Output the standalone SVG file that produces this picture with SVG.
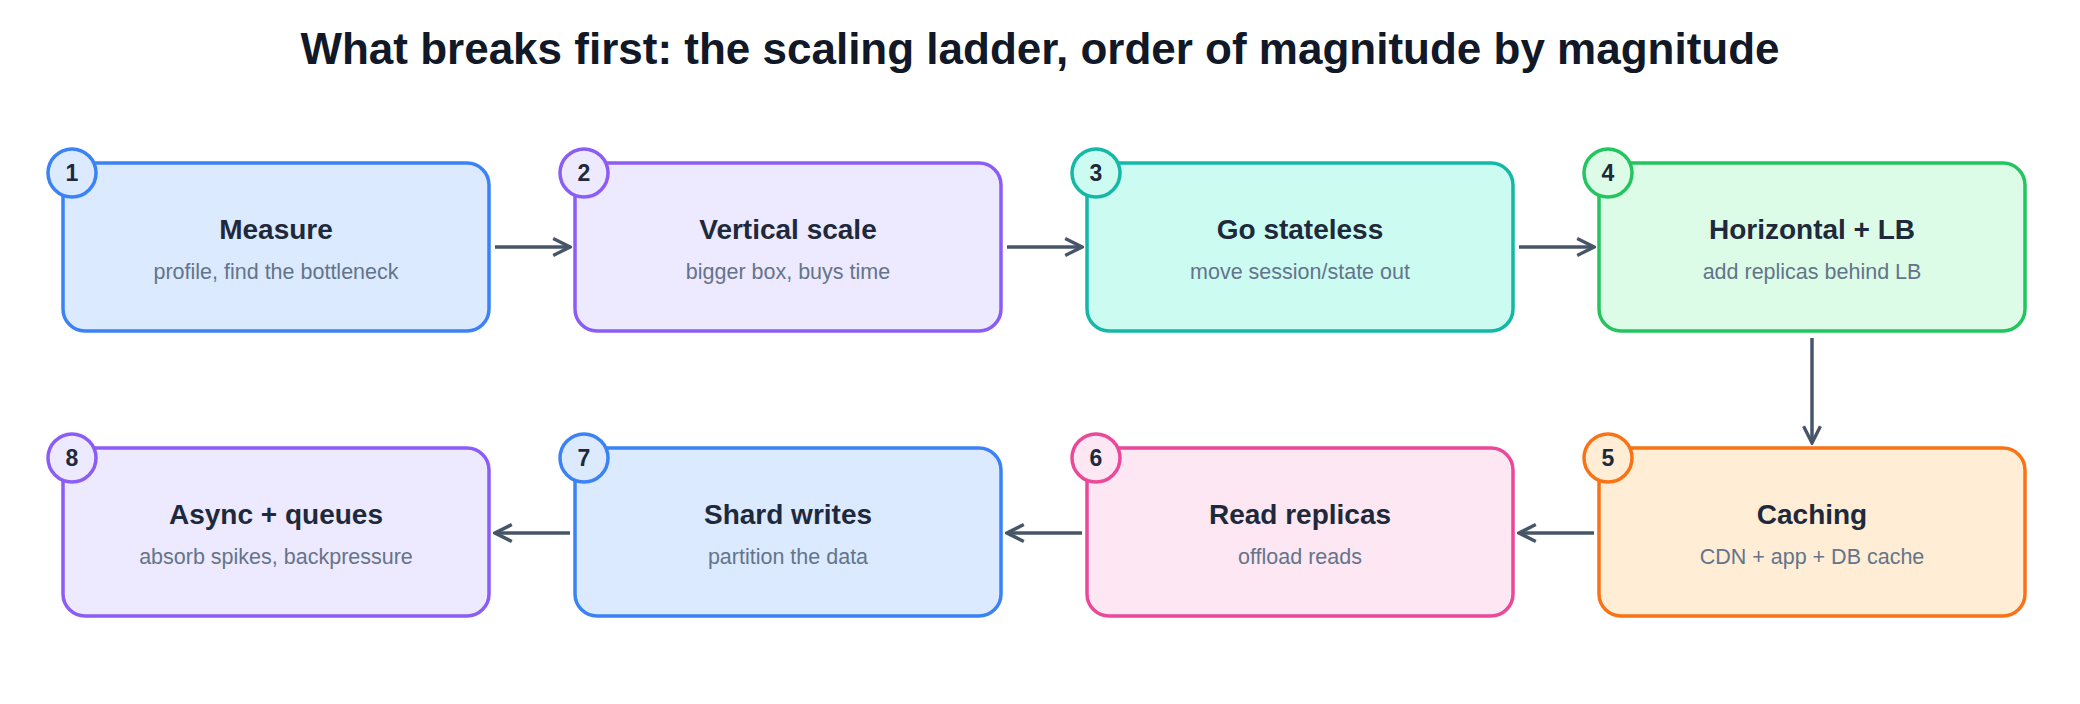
<svg xmlns="http://www.w3.org/2000/svg" width="2080" height="704" viewBox="0 0 2080 704">
<style>
text{font-family:"Liberation Sans",Arial,sans-serif;text-anchor:middle}
.t{font-size:28px;font-weight:bold;fill:#1e293b}
.s{font-size:21.5px;fill:#64748b}
.n{font-size:23px;font-weight:bold;fill:#1e293b}
.box{stroke-width:3.5}
.c line{stroke:#475569;stroke-width:3.5;marker-end:url(#a)}
</style>
<defs><marker id="a" viewBox="0 0 10 10" refX="9" refY="5" markerWidth="6" markerHeight="6" orient="auto"><path d="M1,1 L9,5 L1,9" fill="none" stroke="#475569" stroke-width="1.6"/></marker></defs>
<rect width="2080" height="704" fill="#fff"/>
<text x="1040" y="64" style="font-size:44px;font-weight:bold;fill:#111827">What breaks first: the scaling ladder, order of magnitude by magnitude</text>
<g id="n1"><rect class="box" x="63" y="163" width="426" height="168" rx="22" fill="#dbeafe" stroke="#3b82f6"/><circle cx="72" cy="173" r="24" fill="#dbeafe" stroke="#3b82f6" stroke-width="3.5"/><text class="n" x="72" y="181">1</text><text class="t" x="276" y="239">Measure</text><text class="s" x="276" y="279">profile, find the bottleneck</text></g>
<g id="n2"><rect class="box" x="575" y="163" width="426" height="168" rx="22" fill="#ede9fe" stroke="#8b5cf6"/><circle cx="584" cy="173" r="24" fill="#ede9fe" stroke="#8b5cf6" stroke-width="3.5"/><text class="n" x="584" y="181">2</text><text class="t" x="788" y="239">Vertical scale</text><text class="s" x="788" y="279">bigger box, buys time</text></g>
<g id="n3"><rect class="box" x="1087" y="163" width="426" height="168" rx="22" fill="#ccfbf1" stroke="#14b8a6"/><circle cx="1096" cy="173" r="24" fill="#ccfbf1" stroke="#14b8a6" stroke-width="3.5"/><text class="n" x="1096" y="181">3</text><text class="t" x="1300" y="239">Go stateless</text><text class="s" x="1300" y="279">move session/state out</text></g>
<g id="n4"><rect class="box" x="1599" y="163" width="426" height="168" rx="22" fill="#dcfce7" stroke="#22c55e"/><circle cx="1608" cy="173" r="24" fill="#dcfce7" stroke="#22c55e" stroke-width="3.5"/><text class="n" x="1608" y="181">4</text><text class="t" x="1812" y="239">Horizontal + LB</text><text class="s" x="1812" y="279">add replicas behind LB</text></g>
<g id="n5"><rect class="box" x="1599" y="448" width="426" height="168" rx="22" fill="#ffedd5" stroke="#f97316"/><circle cx="1608" cy="458" r="24" fill="#ffedd5" stroke="#f97316" stroke-width="3.5"/><text class="n" x="1608" y="466">5</text><text class="t" x="1812" y="524">Caching</text><text class="s" x="1812" y="564">CDN + app + DB cache</text></g>
<g id="n6"><rect class="box" x="1087" y="448" width="426" height="168" rx="22" fill="#fce7f3" stroke="#ec4899"/><circle cx="1096" cy="458" r="24" fill="#fce7f3" stroke="#ec4899" stroke-width="3.5"/><text class="n" x="1096" y="466">6</text><text class="t" x="1300" y="524">Read replicas</text><text class="s" x="1300" y="564">offload reads</text></g>
<g id="n7"><rect class="box" x="575" y="448" width="426" height="168" rx="22" fill="#dbeafe" stroke="#3b82f6"/><circle cx="584" cy="458" r="24" fill="#dbeafe" stroke="#3b82f6" stroke-width="3.5"/><text class="n" x="584" y="466">7</text><text class="t" x="788" y="524">Shard writes</text><text class="s" x="788" y="564">partition the data</text></g>
<g id="n8"><rect class="box" x="63" y="448" width="426" height="168" rx="22" fill="#ede9fe" stroke="#8b5cf6"/><circle cx="72" cy="458" r="24" fill="#ede9fe" stroke="#8b5cf6" stroke-width="3.5"/><text class="n" x="72" y="466">8</text><text class="t" x="276" y="524">Async + queues</text><text class="s" x="276" y="564">absorb spikes, backpressure</text></g>
<g class="c" id="connectors">
<line x1="495" y1="247" x2="570" y2="247"/>
<line x1="1007" y1="247" x2="1082" y2="247"/>
<line x1="1519" y1="247" x2="1594" y2="247"/>
<line x1="1812" y1="338" x2="1812" y2="443"/>
<line x1="1594" y1="533" x2="1519" y2="533"/>
<line x1="1082" y1="533" x2="1007" y2="533"/>
<line x1="570" y1="533" x2="495" y2="533"/>
</g>
</svg>
